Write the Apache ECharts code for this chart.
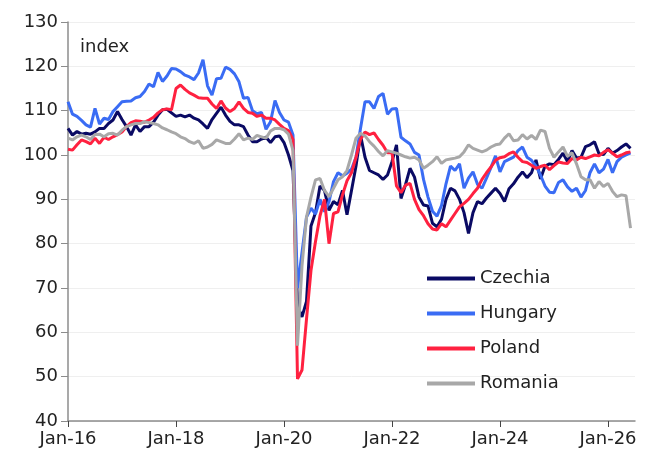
<!DOCTYPE html>
<html>
<head>
<meta charset="utf-8">
<script src="https://cdn.jsdelivr.net/npm/echarts@6/dist/echarts.min.js"></script>
<style>
  html, body { margin: 0; padding: 0; background: #fff; }
  #chart { width: 646px; height: 461px; }
</style>
</head>
<body>
<div id="chart"></div>
<script>
// monthly index, Jan-16 .. Jun-26
const months = [];
const mNames = ['Jan', 'Feb', 'Mar', 'Apr', 'May', 'Jun', 'Jul', 'Aug', 'Sep', 'Oct', 'Nov', 'Dec'];
for (let y = 16; y <= 26; y++) {
  for (let m = 0; m < 12; m++) {
    months.push(mNames[m] + '-' + y);
    if (y === 26 && m === 6) break;
  }
}

const czechia = [
  106, 104.5, 105.3, 104.7, 104.9, 104.7, 105.2, 106, 106, 107.1, 107.9, 109.8,
  108, 106.4, 104.5, 106.8, 105.3, 106.4, 106.4, 107.4, 109, 110.2, 110.3, 109.5,
  108.7, 109, 108.6, 109, 108.3, 107.9, 107, 106, 108, 109.4, 110.8, 109,
  107.6, 106.8, 106.8, 106.4, 104.5, 103, 103, 103.6, 104, 102.8, 104.1, 104.3,
  102.8, 100, 96.5, 66, 63.5, 67, 84, 87, 93, 92, 87.5, 89.5,
  88.8, 92, 86.5, 92, 97.5, 104.5, 99.5, 96.5, 96, 95.5, 94.5, 95.5,
  98.5, 102.3, 90.2, 93.3, 97, 95, 90.5, 88.7, 88.5, 84.6, 83.8, 85.5,
  90, 92.5, 91.9, 90, 87, 82.3, 87, 89.5, 89, 90.3, 91.4, 92.5,
  91.3, 89.5, 92.4, 93.5, 95, 96.2, 94.9, 96, 98.9, 94.6, 97.5, 98,
  97.8, 99, 100.4, 98.5, 101, 99.3, 99.5, 101.9, 102.3, 103, 100.3, 100.1,
  101.5, 100.4, 101, 101.8, 102.5, 101.5
];
const hungary = [
  112, 109.2, 108.7, 107.8, 106.8, 106.3, 110.5, 107, 108.3, 108, 109.8, 110.9,
  112, 112.1, 112.2, 112.9, 113.2, 114.3, 116, 115.4, 118.6, 116.6, 117.8, 119.5,
  119.4, 118.8, 118, 117.6, 117, 118.5, 121.5, 115.6, 113.5, 117.2, 117.3, 119.8,
  119.3, 118.3, 116.5, 112.8, 113, 110, 109.3, 109.6, 105.8, 107.5, 112.3, 109.6,
  107.9, 107.4, 104.5, 70, 78, 86, 88, 86.7, 90, 87.2, 89.5, 94,
  96, 95.3, 95.9, 96.8, 99.5, 106, 112, 112, 110.5, 113.2, 113.9, 109.2,
  110.4, 110.5, 104, 103.2, 102.5, 100.6, 100, 94.5, 90.5, 87.3, 86.2, 88.6,
  93.5, 97.5, 96.5, 98, 92.5, 94.8, 96.2, 93.4, 92.5, 94.8, 97.2, 99.8,
  96.2, 98.5, 99, 99.5, 101, 101.8, 99.5, 98.8, 97.5, 95.5, 93, 91.6,
  91.5, 93.8, 94.4, 92.8, 91.8, 92.5, 90.5, 92, 96, 98, 96, 96.8,
  99, 96, 98.5, 99.5, 100, 100.5
];
const poland = [
  101.3, 101.1, 102.3, 103.4, 103, 102.5, 103.8, 102.6, 104, 103.5, 104.1, 104.6,
  105.2, 106.4, 107.3, 107.7, 107.6, 107.4, 107.9, 108.5, 109.5, 110.2, 110.4, 110.2,
  115, 115.8, 114.8, 114, 113.5, 112.9, 112.8, 112.8, 111.5, 110.5, 112.2, 110.6,
  109.8, 110.5, 112, 110.5, 109.6, 109.4, 108.7, 109, 108.3, 108.3, 107.9, 106.9,
  106, 105.5, 103.5, 49.5, 51.5, 63, 74, 80.5, 86.3, 90, 80, 86.8,
  87.2, 91, 94.2, 96, 99.5, 103.5, 105.2, 104.6, 105, 103.5, 102.2, 100.5,
  100.5, 93, 91.5, 93.2, 93.6, 90, 87.7, 86.3, 84.5, 83.3, 83.1, 84.5,
  83.8, 85.3, 86.8, 88.3, 89.1, 90, 91.3, 92.5, 94.5, 96, 97.3, 98.8,
  99.4, 99.6, 100.3, 100.7, 99.5, 98.5, 98.3, 97.7, 97, 97.4, 97.7, 96.7,
  97.6, 98.4, 98.2, 98.1, 99.2, 98.9, 99.5, 99.2, 99.6, 100, 99.8, 100.6,
  101.2, 100.4, 99.6, 100, 100.5, 100.7
];
const romania = [
  103.8, 103.4, 104.1, 104.5, 104.1, 103.5, 104.6, 104.7, 104.1, 104.8, 104.9, 104.5,
  105.6, 106.4, 106.8, 107.1, 107.1, 107.5, 107.3, 107.1, 106.8, 106.1, 105.7, 105.2,
  104.8, 104.1, 103.7, 103, 102.6, 103.2, 101.5, 101.8, 102.4, 103.4, 103, 102.6,
  102.6, 103.6, 104.8, 103.4, 103.8, 103.5, 104.4, 104.1, 103.8, 105.4, 106, 106,
  105.7, 104.7, 101, 57, 75, 86, 90.5, 94.4, 94.7, 92, 90.6, 92.5,
  94.4, 95.1, 96.5, 100, 103.8, 104.9, 104.3, 103, 102, 100.8, 99.8, 101,
  100.7, 100.4, 100, 99.6, 99.3, 99.5, 98.9, 97, 97.7, 98.5, 99.6, 98.1,
  98.9, 99.1, 99.3, 99.6, 100.7, 102.3, 101.5, 101.1, 100.7, 101.1, 101.8, 102.3,
  102.5, 103.8, 104.8, 103.2, 103.4, 104.6, 103.6, 104.4, 103.5, 105.6, 105.3, 101.5,
  99.5, 100.7, 101.8, 99.7, 100.5, 98, 95.1, 94.4, 94.4, 92.5, 94, 92.9,
  93.6, 91.8, 90.6, 91, 90.8, 83.5
];

const yTicks = [40, 130, 10]; // min, max, step

const font = 'DejaVu Sans';
const axisGrey = '#8c8c8c';

const myChart = echarts.init(document.getElementById('chart'));

const mkLine = (name, data, color) => ({
  name,
  type: 'line',
  data,
  showSymbol: false,
  symbol: 'none',
  smooth: false,
  lineStyle: { width: 3, color },
  itemStyle: { color },
  emphasis: { disabled: true },
});

myChart.setOption({
  animation: false,
  grid: { left: 68, right: 11, top: 22, bottom: 40 },
  graphic: [{
    type: 'text',
    left: 80,
    top: 38,
    style: { text: 'index', font: '18px "' + font + '"', fill: '#222' },
  }],
  legend: {
    orient: 'vertical',
    left: 422,
    top: 263,
    icon: 'rect',
    itemWidth: 48,
    itemHeight: 4,
    itemGap: 14,
    textStyle: { fontFamily: font, fontSize: 18, color: '#222', padding: [0, 0, 0, 0], lineHeight: 21 },
    data: ['Czechia', 'Hungary', 'Poland', 'Romania'],
  },
  xAxis: {
    type: 'category',
    data: months,
    boundaryGap: false,
    axisLine: { lineStyle: { color: axisGrey, width: 1.5 } },
    axisTick: { interval: 23, length: 6, lineStyle: { color: '#444' } },
    axisLabel: {
      interval: 23,
      fontFamily: font,
      fontSize: 18,
      color: '#222',
      margin: 9,
    },
    splitLine: { show: false },
  },
  yAxis: {
    type: 'value',
    min: yTicks[0],
    max: yTicks[1],
    interval: yTicks[2],
    axisLine: { show: true, lineStyle: { color: axisGrey, width: 1.5 } },
    axisTick: { show: true, length: 7, lineStyle: { color: axisGrey } },
    axisLabel: { fontFamily: font, fontSize: 18, color: '#222', margin: 10 },
    splitLine: { show: true, lineStyle: { color: '#efefef', width: 1 } },
  },
  series: [
    mkLine('Czechia', czechia, '#0a0a64'),
    mkLine('Hungary', hungary, '#3a6cf4'),
    mkLine('Poland', poland, '#ff2140'),
    mkLine('Romania', romania, '#a8a8a8'),
  ],
});
</script>
</body>
</html>
